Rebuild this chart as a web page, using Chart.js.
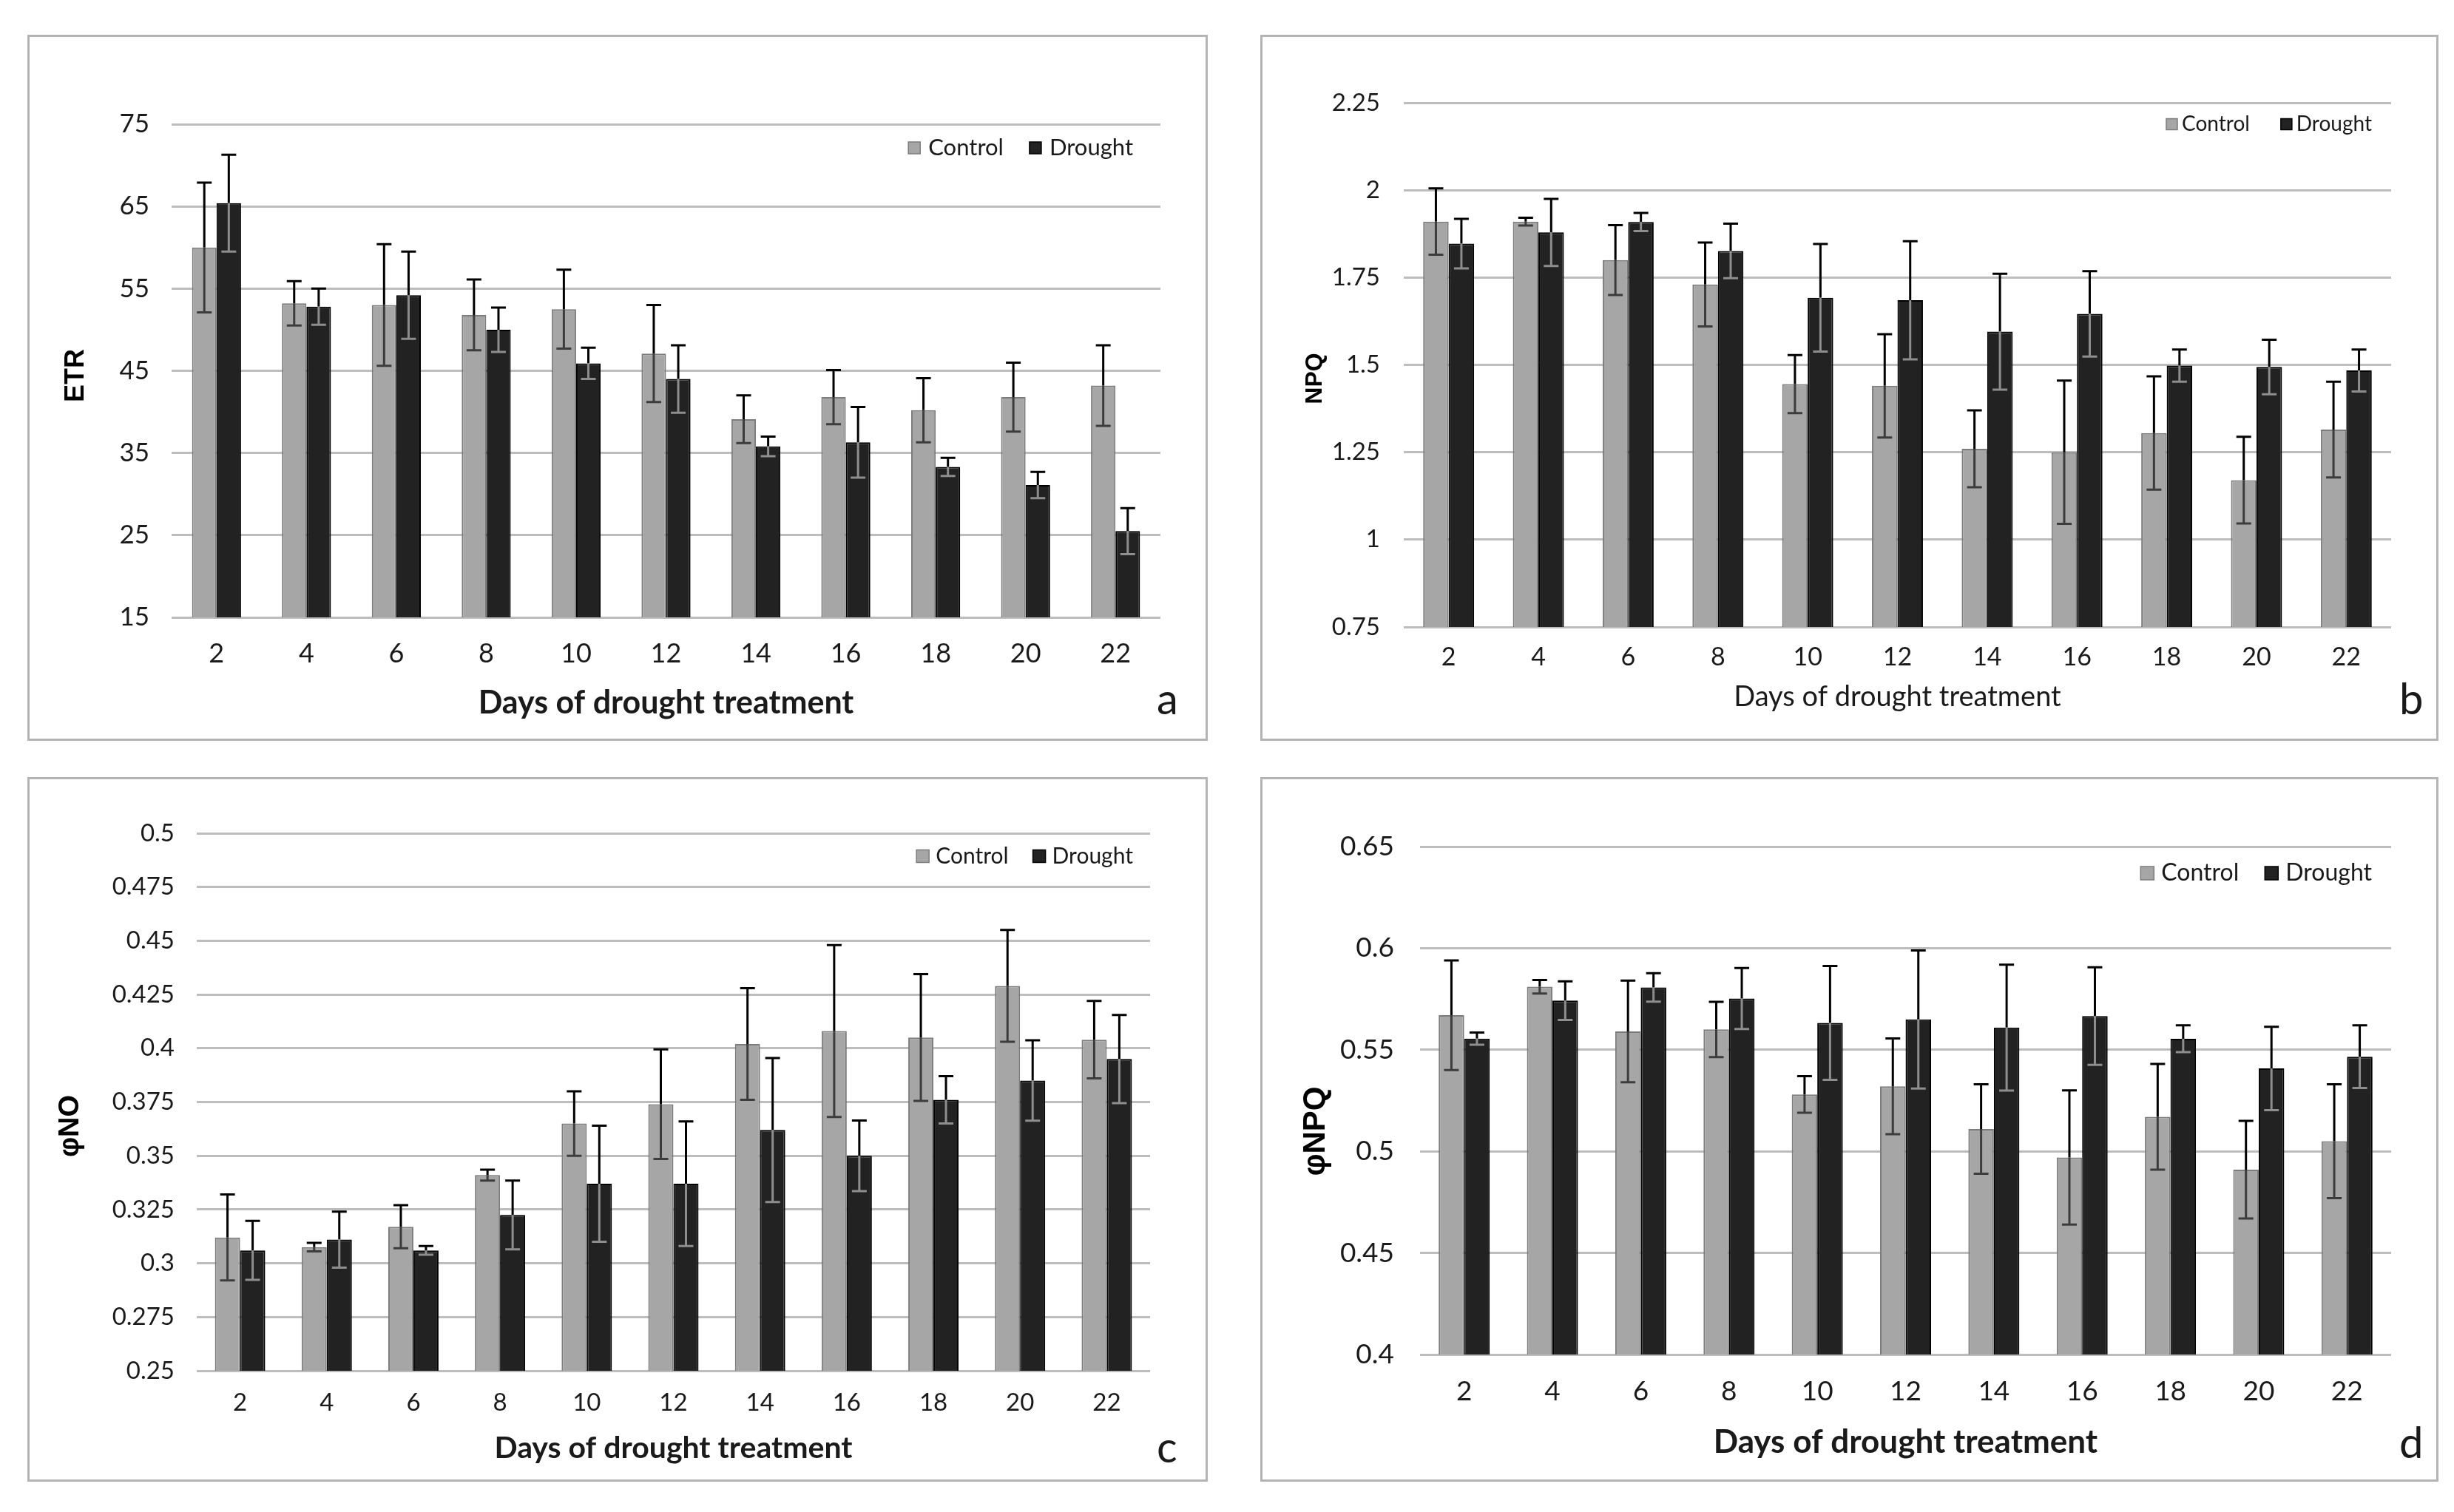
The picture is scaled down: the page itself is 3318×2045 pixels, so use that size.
<!DOCTYPE html>
<html>
<head>
<meta charset="utf-8">
<script src="https://cdn.jsdelivr.net/npm/chart.js@4.4.1/dist/chart.umd.min.js"></script>
<style>
  html, body { margin: 0; padding: 0; background: #fff; }
  #page { position: relative; width: 3318px; height: 2045px; overflow: hidden; background: #fff; }
  .panel { position: absolute; box-sizing: border-box; border: 3px solid #b4b4b4; background: #fff; }
  .panel canvas { position: absolute; left: 0; top: 0; }
</style>
</head>
<body>
<div id="page">
  <div class="panel"><canvas id="chartA"></canvas></div>
  <div class="panel"><canvas id="chartB"></canvas></div>
  <div class="panel"><canvas id="chartC"></canvas></div>
  <div class="panel"><canvas id="chartD"></canvas></div>
</div>
<script>
// x categories, shared by all four panels
const days = ['2', '4', '6', '8', '10', '12', '14', '16', '18', '20', '22'];

// a - ETR
const etrControl    = [60.0, 53.2, 53.0, 51.8, 52.5, 47.1, 39.1, 41.8, 40.2, 41.8, 43.2];
const etrControlErr = [7.9, 2.7, 7.4, 4.3, 4.8, 5.9, 2.9, 3.3, 3.9, 4.2, 4.9];
const etrDrought    = [65.4, 52.8, 54.2, 50.0, 45.9, 44.0, 35.8, 36.3, 33.3, 31.1, 25.5];
const etrDroughtErr = [5.9, 2.2, 5.3, 2.7, 1.9, 4.1, 1.2, 4.3, 1.1, 1.6, 2.8];
const etrTicks = [15, 25, 35, 45, 55, 65, 75];

// b - NPQ
const npqControl    = [1.91, 1.91, 1.80, 1.73, 1.445, 1.44, 1.26, 1.25, 1.305, 1.17, 1.315];
const npqControlErr = [0.095, 0.011, 0.10, 0.12, 0.083, 0.148, 0.11, 0.205, 0.162, 0.124, 0.137];
const npqDrought    = [1.847, 1.879, 1.909, 1.826, 1.692, 1.685, 1.595, 1.646, 1.498, 1.494, 1.484];
const npqDroughtErr = [0.071, 0.096, 0.026, 0.078, 0.154, 0.169, 0.166, 0.122, 0.046, 0.078, 0.06];
const npqTicks = [0.75, 1, 1.25, 1.5, 1.75, 2, 2.25];

// c - phiNO
const phiNoControl    = [0.312, 0.3075, 0.317, 0.341, 0.365, 0.374, 0.402, 0.408, 0.405, 0.429, 0.404];
const phiNoControlErr = [0.020, 0.002, 0.010, 0.0025, 0.015, 0.0255, 0.026, 0.040, 0.0295, 0.026, 0.018];
const phiNoDrought    = [0.306, 0.311, 0.306, 0.3225, 0.337, 0.337, 0.362, 0.350, 0.376, 0.385, 0.395];
const phiNoDroughtErr = [0.0137, 0.013, 0.002, 0.016, 0.027, 0.029, 0.0335, 0.0164, 0.011, 0.0187, 0.0205];
const phiNoTicks = [0.25, 0.275, 0.3, 0.325, 0.35, 0.375, 0.4, 0.425, 0.45, 0.475, 0.5];

// d - phiNPQ
const phiNpqControl    = [0.567, 0.581, 0.559, 0.560, 0.528, 0.532, 0.511, 0.497, 0.517, 0.491, 0.505];
const phiNpqControlErr = [0.027, 0.0033, 0.025, 0.0136, 0.009, 0.0236, 0.022, 0.033, 0.026, 0.024, 0.028];
const phiNpqDrought    = [0.5555, 0.5742, 0.5807, 0.5752, 0.5632, 0.5649, 0.5609, 0.5666, 0.5554, 0.5408, 0.5466];
const phiNpqDroughtErr = [0.003, 0.0095, 0.007, 0.015, 0.028, 0.034, 0.031, 0.024, 0.0066, 0.0205, 0.0154];
const phiNpqTicks = [0.4, 0.45, 0.5, 0.55, 0.6, 0.65];

const TEXT = '#1a1a1a';

// symmetric error bars, dark above the bar, contrasting inside it
const errorBars = {
    id: 'errorBars',
    afterDatasetsDraw(chart) {
        const ctx = chart.ctx;
        const yScale = chart.scales.y;
        ctx.save();
        ctx.lineWidth = 3;
        chart.data.datasets.forEach((ds, i) => {
            const meta = chart.getDatasetMeta(i);
            meta.data.forEach((bar, j) => {
                const v = ds.data[j], e = ds.errors[j];
                const top = yScale.getPixelForValue(v + e);
                const bot = yScale.getPixelForValue(v - e);
                const half = 10;
                ctx.strokeStyle = '#000';
                ctx.beginPath();
                ctx.moveTo(bar.x, bar.y);
                ctx.lineTo(bar.x, top);
                ctx.moveTo(bar.x - half, top);
                ctx.lineTo(bar.x + half, top);
                ctx.stroke();
                ctx.strokeStyle = ds.errInside;
                ctx.beginPath();
                ctx.moveTo(bar.x, bar.y);
                ctx.lineTo(bar.x, bot);
                ctx.moveTo(bar.x - half, bot);
                ctx.lineTo(bar.x + half, bot);
                ctx.stroke();
            });
        });
        ctx.restore();
    }
};

// legend placed inside the plot, top right
const cornerLegend = {
    id: 'cornerLegend',
    afterDraw(chart, args, o) {
        const ctx = chart.ctx, area = chart.chartArea;
        ctx.save();
        ctx.font = o.size + 'px Lato';
        ctx.textBaseline = 'middle';
        ctx.textAlign = 'left';
        let x = area.right - o.right;
        const y = area.top + o.top;
        chart.data.datasets.slice().reverse().forEach(ds => {
            x -= ctx.measureText(ds.label).width;
            ctx.fillStyle = TEXT;
            ctx.fillText(ds.label, x, y);
            x -= o.gap + o.box;
            ctx.fillStyle = ds.backgroundColor;
            ctx.fillRect(x, y - o.box / 2, o.box, o.box);
            ctx.lineWidth = 1.5;
            ctx.strokeStyle = ds.borderColor;
            ctx.strokeRect(x, y - o.box / 2, o.box, o.box);
            x -= o.itemGap;
        });
        ctx.restore();
    }
};

// rotated y title, placed where the original sits (not always centred)
const yTitle = {
    id: 'yTitle',
    afterDraw(chart, args, o) {
        const ctx = chart.ctx;
        ctx.save();
        ctx.translate(o.x, o.y);
        ctx.rotate(-Math.PI / 2);
        ctx.font = 'bold ' + o.size + 'px "Liberation Sans"';
        ctx.fillStyle = '#000';
        ctx.textAlign = 'center';
        ctx.textBaseline = 'middle';
        ctx.fillText(o.text, 0, 0);
        ctx.restore();
    }
};

const panelLetter = {
    id: 'panelLetter',
    afterDraw(chart, args, o) {
        const ctx = chart.ctx;
        ctx.save();
        ctx.font = o.size + 'px Lato';
        ctx.fillStyle = TEXT;
        ctx.textBaseline = 'alphabetic';
        ctx.fillText(o.text, o.x, o.y);
        ctx.restore();
    }
};

function buildChart(p) {
    const canvas = document.getElementById(p.id);
    const box = canvas.parentNode;
    const [L, T, R, B] = p.box;
    box.style.left = L + 'px';
    box.style.top = T + 'px';
    box.style.width = (R - L) + 'px';
    box.style.height = (B - T) + 'px';
    const ox = L + 3, oy = T + 3;
    const w = R - L - 6, h = B - T - 6;
    canvas.width = w;
    canvas.height = h;
    canvas.style.width = w + 'px';
    canvas.style.height = h + 'px';
    const yWidth = p.area[0] - ox;
    const xHeight = (B - 3) - p.area[3];

    return new Chart(canvas, {
        type: 'bar',
        data: {
            labels: days,
            datasets: [{
                label: 'Control',
                data: p.control,
                errors: p.controlErr,
                backgroundColor: '#a6a6a6',
                borderColor: '#7c7c7c',
                borderWidth: 2,
                errInside: '#3c3c3c'
            }, {
                label: 'Drought',
                data: p.drought,
                errors: p.droughtErr,
                backgroundColor: '#222222',
                borderColor: '#000000',
                borderWidth: 2,
                errInside: '#8e8e8e'
            }]
        },
        options: {
            responsive: false,
            animation: false,
            devicePixelRatio: 1,
            layout: {
                padding: { left: 0, top: p.area[1] - oy, right: (R - 3) - p.area[2], bottom: 0 }
            },
            datasets: {
                bar: { categoryPercentage: p.catPct, barPercentage: 1 }
            },
            plugins: {
                legend: { display: false },
                tooltip: { enabled: false },
                cornerLegend: p.legend,
                yTitle: { text: p.yTitle, size: p.yTitleSize, x: p.yTitlePos[0] - ox, y: p.yTitlePos[1] - oy },
                panelLetter: { text: p.letter, x: p.letterPos[0] - ox, y: p.letterPos[1] - oy, size: 58 }
            },
            scales: {
                x: {
                    grid: { display: false, drawTicks: false },
                    border: { display: false },
                    ticks: {
                        color: TEXT,
                        font: { family: 'Lato', size: p.xTickSize },
                        padding: p.xTickPad,
                        maxRotation: 0,
                        autoSkip: false
                    },
                    title: {
                        display: true,
                        text: 'Days of drought treatment',
                        color: TEXT,
                        font: { family: 'Lato', size: p.xTitleSize, weight: p.xTitleWeight },
                        padding: { top: 0, bottom: p.xTitlePad }
                    },
                    afterFit: s => { s.height = xHeight; }
                },
                y: {
                    min: p.ticks[0],
                    max: p.ticks[p.ticks.length - 1],
                    afterBuildTicks: s => { s.ticks = p.ticks.map(v => ({ value: v })); },
                    grid: { color: '#bdbdbd', lineWidth: 3, drawTicks: false },
                    border: { display: false },
                    ticks: {
                        color: TEXT,
                        font: { family: 'Lato', size: p.yTickSize },
                        padding: p.yTickPad,
                        callback: v => String(v)
                    },
                    afterFit: s => { s.width = yWidth; }
                }
            }
        },
        plugins: [errorBars, cornerLegend, yTitle, panelLetter]
    });
}

buildChart({
    id: 'chartA', letter: 'a', letterPos: [1564, 966],
    box: [37, 47, 1633, 1002], area: [232, 168, 1569, 835], catPct: 0.545,
    control: etrControl, controlErr: etrControlErr, drought: etrDrought, droughtErr: etrDroughtErr,
    ticks: etrTicks, yTitle: 'ETR', yTitleSize: 36, yTitlePos: [103, 508],
    yTickSize: 35, yTickPad: 30, xTickSize: 36, xTickPad: 28,
    xTitleSize: 43, xTitleWeight: 'bold', xTitlePad: 22,
    legend: { size: 31, box: 16, gap: 11, itemGap: 35, right: 37, top: 32 }
});

buildChart({
    id: 'chartB', letter: 'b', letterPos: [3244, 966],
    box: [1704, 47, 3297, 1002], area: [1898, 139, 3233, 848], catPct: 0.568,
    control: npqControl, controlErr: npqControlErr, drought: npqDrought, droughtErr: npqDroughtErr,
    ticks: npqTicks, yTitle: 'NPQ', yTitleSize: 32, yTitlePos: [1778, 512],
    yTickSize: 33, yTickPad: 32, xTickSize: 34, xTickPad: 21,
    xTitleSize: 38, xTitleWeight: 'normal', xTitlePad: 33,
    legend: { size: 28, box: 15, gap: 6, itemGap: 42, right: 26, top: 29 }
});

buildChart({
    id: 'chartC', letter: 'c', letterPos: [1564, 1978],
    box: [37, 1051, 1633, 2004], area: [266, 1127, 1555, 1854], catPct: 0.58,
    control: phiNoControl, controlErr: phiNoControlErr, drought: phiNoDrought, droughtErr: phiNoDroughtErr,
    ticks: phiNoTicks, yTitle: 'φNO', yTitleSize: 38, yTitlePos: [96, 1523],
    yTickSize: 33, yTickPad: 30, xTickSize: 33, xTickPad: 24,
    xTitleSize: 41, xTitleWeight: 'bold', xTitlePad: 18,
    legend: { size: 30, box: 17, gap: 9, itemGap: 33, right: 23, top: 31 }
});

buildChart({
    id: 'chartD', letter: 'd', letterPos: [3244, 1972],
    box: [1704, 1051, 3297, 2004], area: [1920, 1145, 3233, 1832], catPct: 0.578,
    control: phiNpqControl, controlErr: phiNpqControlErr, drought: phiNpqDrought, droughtErr: phiNpqDroughtErr,
    ticks: phiNpqTicks, yTitle: 'φNPQ', yTitleSize: 42, yTitlePos: [1779, 1530],
    yTickSize: 37, yTickPad: 35, xTickSize: 37, xTickPad: 28,
    xTitleSize: 44, xTitleWeight: 'bold', xTitlePad: 24,
    legend: { size: 32, box: 18, gap: 10, itemGap: 35, right: 26, top: 36 }
});
</script>
</body>
</html>
